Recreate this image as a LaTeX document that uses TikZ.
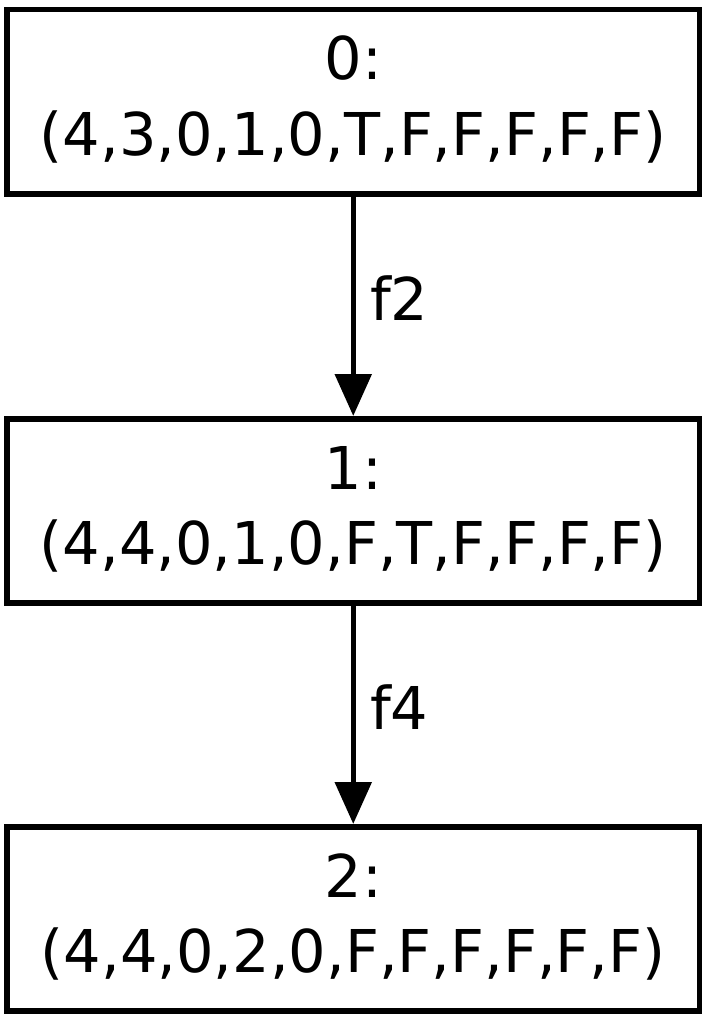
\documentclass[tikz,border=0pt]{standalone}
\usepackage{fontspec}
\setmainfont{DejaVu Sans}
\usetikzlibrary{arrows.meta}
\begin{document}
\begin{tikzpicture}[x=1pt,y=1pt,
  statebox/.style={draw=black,line width=5.5pt,minimum width=692.5pt,minimum height=184pt,inner sep=0pt,outer sep=0pt},
  boxtext/.style={anchor=base,inner sep=0pt,font=\fontsize{59}{75}\selectfont},
  edgelabel/.style={anchor=base west,inner sep=0pt,font=\fontsize{59}{75}\selectfont},
  edge/.style={line width=5.5pt,-{Triangle[length=42pt,width=36pt]},shorten >=3pt}]
\useasboundingbox (0,0) rectangle (709,-1025);
\node[statebox] (n0) at (353.25,-101.75) {};
\node[statebox] (n1) at (353.25,-511) {};
\node[statebox] (n2) at (353.25,-919) {};
\node[boxtext] (t0a) at (353.25,-80) {0:};
\node[boxtext] (t0b) at (353.25,-155) {(4,3,0,1,0,T,F,F,F,F,F)};
\node[boxtext] (t1a) at (353.25,-489) {1:};
\node[boxtext] (t1b) at (353.25,-564) {(4,4,0,1,0,F,T,F,F,F,F)};
\node[boxtext] (t2a) at (353.25,-897) {2:};
\node[boxtext] (t2b) at (353.25,-972) {(4,4,0,2,0,F,F,F,F,F,F)};
\draw[edge] (n0.south) -- (n1.north);
\draw[edge] (n1.south) -- (n2.north);
\node[edgelabel] (l0) at (370,-320) {f2};
\node[edgelabel] (l1) at (370,-729) {f4};
\end{tikzpicture}
\end{document}
